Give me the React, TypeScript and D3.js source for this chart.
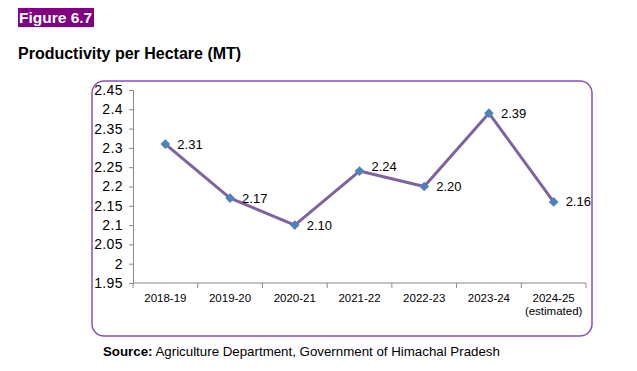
import { useEffect, useRef } from 'react'
import * as d3 from 'd3'

const years = ['2018-19', '2019-20', '2020-21', '2021-22', '2022-23', '2023-24', '2024-25']
const yearNotes = ['', '', '', '', '', '', '(estimated)']
const productivity = [2.31, 2.17, 2.1, 2.24, 2.2, 2.39, 2.16]
const yTicks = [1.95, 2, 2.05, 2.1, 2.15, 2.2, 2.25, 2.3, 2.35, 2.4, 2.45]

const FONT = '"Liberation Sans", Arial, sans-serif'

export default function App() {
  const svgRef = useRef<SVGSVGElement>(null)

  useEffect(() => {
    if (!svgRef.current) return
    const svg = d3.select(svgRef.current)
    svg.selectAll('*').remove()

    // header badge + title
    svg.append('rect')
      .attr('x', 18).attr('y', 8).attr('width', 76).attr('height', 19)
      .attr('fill', '#800080')
    svg.append('text')
      .attr('x', 19).attr('y', 23)
      .attr('fill', '#fff')
      .style('font', `bold 15.5px ${FONT}`)
      .text('Figure 6.7')
    svg.append('text')
      .attr('x', 18).attr('y', 59)
      .attr('fill', '#000')
      .style('font', `bold 16px ${FONT}`)
      .text('Productivity per Hectare (MT)')

    // chart frame
    svg.append('rect')
      .attr('x', 92).attr('y', 81).attr('width', 500).attr('height', 255)
      .attr('rx', 12)
      .attr('fill', '#fff')
      .attr('stroke', '#8b4fb5')
      .attr('stroke-width', 1.5)

    const left = 133, right = 586, top = 90, bottom = 283

    const x = d3.scaleBand().domain(years).range([left, right])
    const y = d3.scaleLinear().domain([1.95, 2.45]).range([bottom, top])

    const axisColor = '#888'

    // y axis
    const ya = svg.append('g')
      .attr('transform', `translate(${left},0)`)
      .call(d3.axisLeft(y).tickValues(yTicks).tickSize(4).tickPadding(6)
        .tickFormat(d => d3.format('')(+d)))
    ya.select('.domain').attr('stroke', axisColor)
    ya.selectAll('.tick line').attr('stroke', axisColor)
    ya.selectAll('.tick text')
      .attr('fill', '#000')
      .style('font', `14px ${FONT}`)
      .style('letter-spacing', '0.4px')

    // x axis
    const xa = svg.append('g')
      .attr('transform', `translate(0,${bottom})`)
    xa.append('line')
      .attr('x1', left).attr('x2', right)
      .attr('stroke', axisColor)
    const bounds = d3.range(years.length + 1).map(i => left + i * x.bandwidth())
    xa.selectAll('line.tk')
      .data(bounds)
      .enter().append('line')
      .attr('class', 'tk')
      .attr('x1', d => d).attr('x2', d => d)
      .attr('y1', 0).attr('y2', 5)
      .attr('stroke', axisColor)
    years.forEach((yr, i) => {
      const cx = x(yr)! + x.bandwidth() / 2
      xa.append('text')
        .attr('x', cx).attr('y', 19)
        .attr('text-anchor', 'middle')
        .style('font', `11.5px ${FONT}`)
        .text(yr)
      if (yearNotes[i]) {
        xa.append('text')
          .attr('x', cx).attr('y', 32)
          .attr('text-anchor', 'middle')
          .style('font', `11.5px ${FONT}`)
          .text(yearNotes[i])
      }
    })

    // line
    const pts = productivity.map((v, i) => [x(years[i])! + x.bandwidth() / 2, y(v)] as [number, number])
    svg.append('path')
      .attr('d', d3.line()(pts))
      .attr('fill', 'none')
      .attr('stroke', '#7f63a1')
      .attr('stroke-width', 3)
      .attr('stroke-linejoin', 'round')

    // markers
    svg.selectAll('path.mk')
      .data(pts)
      .enter().append('path')
      .attr('class', 'mk')
      .attr('d', d3.symbol(d3.symbolDiamond2, 60)())
      .attr('transform', d => `translate(${d[0]},${d[1]})`)
      .attr('fill', '#4f81bd')

    // value labels
    svg.selectAll('text.lbl')
      .data(pts)
      .enter().append('text')
      .attr('class', 'lbl')
      .attr('x', d => d[0] + 12)
      .attr('y', (d, i) => d[1] + (i === 3 ? -5 : 0))
      .attr('dy', '0.35em')
      .style('font', `13px ${FONT}`)
      .text((d, i) => productivity[i].toFixed(2))

    // source
    const src = svg.append('text')
      .attr('x', 103).attr('y', 356)
      .style('font', `13.3px ${FONT}`)
    src.append('tspan').style('font-weight', 'bold').text('Source:')
    src.append('tspan').text(' Agriculture Department, Government of Himachal Pradesh')
  }, [])

  return (
    <svg ref={svgRef} width={637} height={371}
      style={{ position: 'absolute', left: 0, top: 0, background: '#fff' }} />
  )
}
